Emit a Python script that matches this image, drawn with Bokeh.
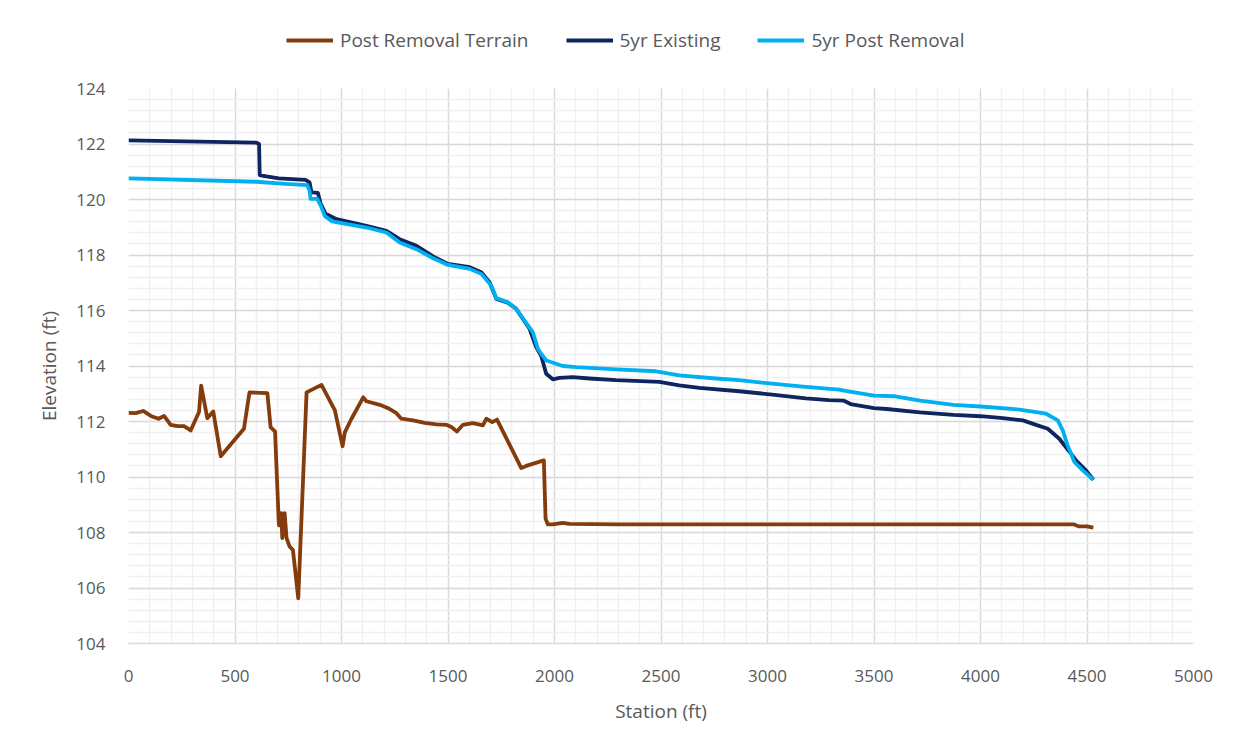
from bokeh.plotting import figure
from bokeh.layouts import column
from bokeh.models import Legend, LegendItem, SingleIntervalTicker, Range1d
from bokeh.embed import file_html
from bokeh.resources import INLINE

# ---- data ----
terrain_x = [0, 34, 69, 105, 141, 167, 198, 230, 261, 292, 331, 341, 370, 398, 433, 542, 568, 652, 667, 688,
             706, 717, 722, 733, 742, 756, 772, 797, 836, 906, 969, 1005, 1016, 1047, 1102, 1117, 1180, 1219,
             1258, 1281, 1336, 1391, 1445, 1492, 1516, 1542, 1570, 1617, 1664, 1680, 1708, 1730, 1844, 1867,
             1950, 1958, 1969, 1992, 2039, 2070, 2300, 3000, 3500, 4000, 4440, 4460, 4500, 4530]
terrain_y = [112.31, 112.30, 112.38, 112.20, 112.10, 112.20, 111.88, 111.83, 111.83, 111.68, 112.34, 113.29,
             112.12, 112.36, 110.75, 111.74, 113.05, 113.02, 111.80, 111.64,
             108.26, 108.70, 107.80, 108.70, 107.80, 107.50, 107.37, 105.63, 113.05, 113.32, 112.40, 111.11,
             111.62, 112.10, 112.87, 112.73, 112.60, 112.48, 112.30, 112.10, 112.04, 111.95, 111.90, 111.88,
             111.80, 111.64, 111.88, 111.94, 111.86, 112.10, 111.98, 112.07, 110.32, 110.40,
             110.60, 108.50, 108.29, 108.29, 108.35, 108.31, 108.29, 108.29, 108.29, 108.29, 108.29, 108.22,
             108.22, 108.18]

existing_x = [0, 600, 613, 616, 647, 706, 831, 850, 859, 889, 902, 925, 977, 1117, 1211, 1273, 1352, 1430,
              1500, 1602, 1656, 1695, 1727, 1781, 1820, 1883, 1914, 1937, 1961, 1992, 2023, 2086, 2164, 2289,
              2492, 2586, 2680, 2867, 3022, 3180, 3289, 3359, 3390, 3500, 3560, 3716, 3873, 4000, 4105, 4199,
              4261, 4316, 4370, 4417, 4448, 4495, 4530]
existing_y = [122.13, 122.05, 122.00, 120.88, 120.83, 120.76, 120.71, 120.62, 120.26, 120.24, 119.85, 119.49,
              119.29, 119.05, 118.87, 118.57, 118.33, 117.95, 117.68, 117.56, 117.38, 117.02, 116.42, 116.28,
              116.06, 115.34, 114.68, 114.38, 113.72, 113.52, 113.57, 113.60, 113.55, 113.49, 113.43, 113.30,
              113.21, 113.09, 112.97, 112.83, 112.77, 112.75, 112.63, 112.48, 112.45, 112.33, 112.24, 112.19,
              112.12, 112.04, 111.88, 111.74, 111.38, 110.92, 110.60, 110.24, 109.90]

post_x = [0, 600, 737, 839, 850, 855, 886, 902, 922, 956, 988, 1117, 1211, 1273, 1352, 1430, 1500, 1602, 1656,
          1703, 1727, 1781, 1820, 1898, 1922, 1937, 1961, 2039, 2102, 2289, 2477, 2586, 2758, 2867, 3008, 3180,
          3336, 3359, 3500, 3594, 3716, 3873, 4000, 4183, 4308, 4363, 4386, 4409, 4441, 4480, 4530]
post_y = [120.76, 120.64, 120.56, 120.52, 120.32, 120.02, 120.02, 119.79, 119.40, 119.21, 119.17, 118.99,
          118.81, 118.45, 118.21, 117.88, 117.64, 117.50, 117.32, 116.90, 116.44, 116.30, 116.06, 115.22, 114.62,
          114.45, 114.20, 114.00, 113.96, 113.88, 113.81, 113.66, 113.55, 113.49, 113.37, 113.25, 113.15, 113.11,
          112.93, 112.91, 112.75, 112.60, 112.54, 112.43, 112.28, 112.04, 111.68, 111.14, 110.54, 110.24, 109.90]

series_names = ["Post Removal Terrain", "5yr Existing", "5yr Post Removal"]
series_colors = ["#843C0C", "#0E2560", "#00B0F0"]

FONT = "Open Sans"
TXT = "#595959"
LW = 3.8

# ---- main plot ----
p = figure(width=1234, height=676, output_backend="svg", toolbar_location=None,
           x_range=Range1d(0, 5000), y_range=Range1d(104, 124),
           min_border_left=128, min_border_right=41, min_border_top=20, min_border_bottom=101)
p.frame_width = 1065
p.frame_height = 555
p.outline_line_color = None
p.background_fill_color = "white"
p.border_fill_color = "white"

p.xaxis.ticker = SingleIntervalTicker(interval=500, num_minor_ticks=5)
p.yaxis.ticker = SingleIntervalTicker(interval=2, num_minor_ticks=5)
p.xgrid.ticker = SingleIntervalTicker(interval=500, num_minor_ticks=5)
p.ygrid.ticker = SingleIntervalTicker(interval=2, num_minor_ticks=5)

for g in (p.xgrid, p.ygrid):
    g.grid_line_color = "#d9d9d9"
    g.grid_line_width = 1.3
    g.minor_grid_line_color = "#f0f0f0"
    g.minor_grid_line_width = 1.5

for ax in (p.xaxis, p.yaxis):
    ax.major_tick_line_color = None
    ax.minor_tick_line_color = None
    ax.major_label_text_font = FONT
    ax.major_label_text_font_size = "17px"
    ax.major_label_text_color = TXT
    ax.axis_label_text_font = FONT
    ax.axis_label_text_font_size = "19px"
    ax.axis_label_text_color = TXT
    ax.axis_label_text_font_style = "normal"

p.xaxis.axis_line_color = "#d9d9d9"
p.xaxis.axis_line_width = 1.3
p.yaxis.axis_line_color = None
p.xaxis.axis_label = "Station (ft)"
p.yaxis.axis_label = "Elevation (ft)"
p.xaxis.major_label_standoff = 20
p.yaxis.major_label_standoff = 17
p.xaxis.axis_label_standoff = 13
p.yaxis.axis_label_standoff = 11

r1 = p.line(terrain_x, terrain_y, line_color=series_colors[0], line_width=LW, line_join="round")
r2 = p.line(existing_x, existing_y, line_color=series_colors[1], line_width=LW, line_join="round")
r3 = p.line(post_x, post_y, line_color=series_colors[2], line_width=LW, line_join="round")

# ---- legend strip on top (frame is aligned with the main plot's frame) ----
top = figure(width=1234, height=68, output_backend="svg", toolbar_location=None,
             x_range=Range1d(0, 1), y_range=Range1d(0, 1),
             x_axis_type=None, y_axis_type=None,
             min_border_left=0, min_border_right=0, min_border_top=0, min_border_bottom=0)
top.outline_line_color = None
top.grid.visible = False
top.background_fill_color = "white"
top.border_fill_color = "white"
# off-range proxies, only used for the legend swatches
lr = [top.line([0, 1], [5, 5], line_color=c, line_width=LW) for c in series_colors]

legend = Legend(items=[LegendItem(label=n, renderers=[r]) for n, r in zip(series_names, lr)],
                orientation="horizontal", location=(158, 15))
legend.border_line_color = None
legend.background_fill_alpha = 0
legend.label_text_font = FONT
legend.label_text_font_size = "19px"
legend.label_text_color = TXT
legend.glyph_width = 47
legend.label_standoff = 7
legend.spacing = 37
legend.padding = 0
legend.margin = 0
top.add_layout(legend, "center")

layout = column(top, p, spacing=0)
open("out.html", "w").write(file_html(layout, INLINE))
